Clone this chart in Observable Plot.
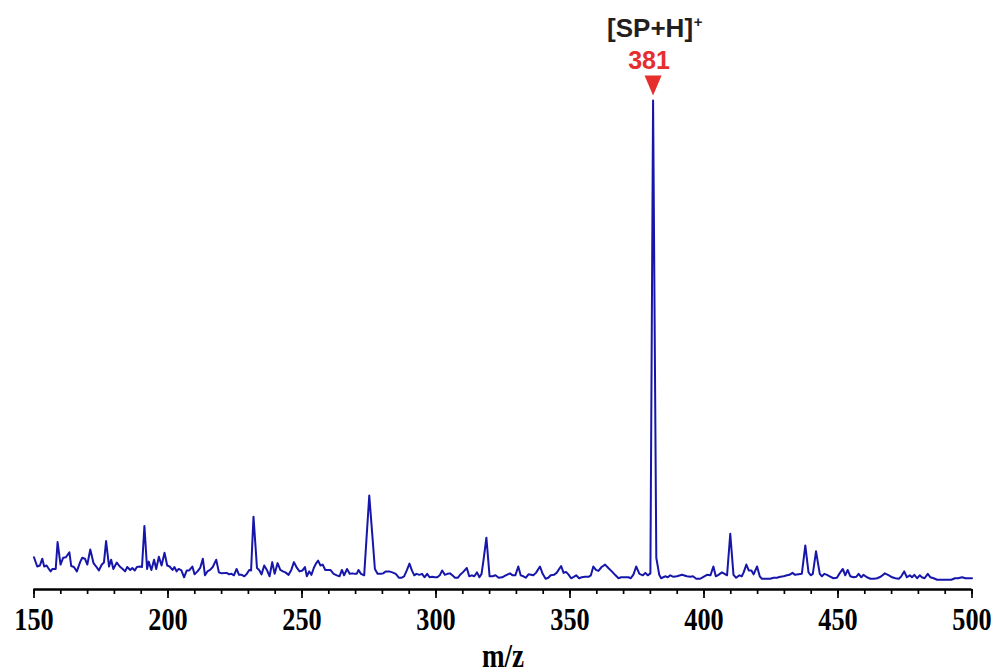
<!DOCTYPE html>
<html><head><meta charset="utf-8">
<script src="https://cdn.jsdelivr.net/npm/d3@7"></script>
<script src="https://cdn.jsdelivr.net/npm/@observablehq/plot@0.6"></script>
<style>html,body{margin:0;padding:0;background:#fff;}</style>
</head><body><div id="chart"></div>
<script>
const mz = [
150.0,151.2,152.2,153.1,153.8,154.7,155.3,156.2,156.9,158.1,158.8,159.9,160.9,161.9,163.2,163.9,164.9,166.0,167.2,168.0,
169.0,169.9,171.0,172.2,173.2,174.2,175.3,176.1,176.9,178.0,178.8,179.6,180.9,182.0,183.1,184.0,184.8,185.9,186.7,187.6,
188.4,189.6,190.3,191.2,192.2,192.8,193.8,194.8,195.6,196.6,197.6,198.7,199.7,200.6,201.7,202.4,203.2,204.0,205.0,206.0,
207.0,207.9,209.1,209.9,211.0,212.0,213.0,213.8,214.7,215.7,216.7,218.0,219.0,220.0,221.9,222.8,223.7,224.6,225.6,226.5,
227.5,228.5,229.4,230.3,231.0,231.9,233.2,234.0,234.9,235.9,236.9,237.9,238.9,239.8,240.9,241.9,242.9,243.8,245.0,246.0,
247.0,248.1,249.1,250.2,251.1,251.8,252.7,253.5,254.4,255.2,256.0,256.9,257.7,258.7,260.6,261.8,263.0,264.0,264.9,265.7,
266.8,267.8,268.9,269.6,270.4,271.1,272.0,273.2,274.1,275.1,276.3,277.2,278.2,279.4,280.3,281.2,282.5,283.7,285.0,286.2,
287.1,288.1,289.1,290.1,291.0,291.9,292.7,293.8,294.8,295.7,296.7,297.6,298.6,299.5,300.5,301.4,302.3,303.3,304.3,305.2,
306.1,307.1,308.1,309.0,310.0,311.5,312.4,313.4,314.3,315.3,316.2,317.0,317.7,318.8,320.0,321.1,322.2,323.4,324.7,326.0,
327.6,328.6,329.6,330.7,331.6,332.6,333.5,334.5,335.5,336.3,337.3,338.8,339.8,340.9,341.9,342.8,344.0,345.0,346.7,347.6,
348.5,349.4,350.4,351.4,352.3,353.4,354.4,355.6,356.9,357.8,358.7,359.7,360.6,361.8,363.1,364.3,365.6,366.8,368.1,369.1,
370.0,371.0,371.8,372.7,373.7,374.7,375.9,377.2,378.1,379.0,380.0,381.0,382.2,383.3,384.0,385.5,386.5,387.4,388.6,389.9,
391.8,393.6,394.9,395.9,397.1,398.6,399.8,401.1,402.4,403.5,404.4,405.4,406.7,407.7,408.6,409.8,411.0,412.0,413.2,414.1,
414.8,415.8,416.7,417.7,418.5,419.8,420.8,421.6,422.9,424.7,426.0,427.2,428.5,429.7,431.0,431.9,433.0,434.0,435.3,436.5,
437.8,439.0,439.9,440.6,441.8,443.2,444.0,444.9,445.9,446.9,448.3,449.6,450.6,451.8,452.7,453.6,454.6,455.8,456.8,457.7,
458.7,459.5,460.8,462.1,463.4,464.6,465.9,467.5,469.0,470.2,471.4,472.7,473.5,474.7,475.7,476.8,477.6,478.5,479.5,480.5,
481.3,482.3,483.5,484.5,485.7,487.0,488.7,490.5,492.3,493.6,494.8,496.3,497.6,498.9,500.0
];
const intensity = [
6.6,4.7,4.9,6.3,4.7,4.9,4.4,3.7,4.2,4.2,9.7,5.1,6.5,6.6,7.6,4.8,4.6,3.7,5.6,6.5,
6.3,5.1,8.2,5.4,4.7,3.9,5.1,5.5,9.9,4.7,6.1,4.2,5.5,4.7,4.2,3.7,4.6,4.0,4.4,3.9,
4.6,4.7,4.6,13.0,4.2,5.7,4.0,6.1,4.2,6.7,4.9,7.5,4.9,4.7,4.0,4.6,3.7,4.2,3.9,2.5,
3.9,3.9,4.7,3.1,3.7,4.4,6.3,2.9,3.7,4.0,4.6,6.1,3.5,3.3,3.4,3.1,3.2,2.9,4.2,3.0,
3.0,2.7,3.2,4.0,3.9,14.9,4.4,4.0,3.1,4.9,4.0,2.7,5.6,3.2,5.4,4.0,3.7,3.5,3.0,4.0,
5.6,4.4,3.7,3.9,4.6,2.7,3.7,3.0,4.4,5.3,5.9,4.9,5.1,4.0,4.0,3.2,2.9,2.7,4.0,2.9,
4.2,3.2,3.3,3.2,3.2,4.0,3.2,2.9,10.7,19.2,10.7,4.2,3.2,3.2,3.3,3.7,3.7,3.5,3.2,2.4,
2.4,2.7,3.9,5.3,3.9,2.9,3.2,3.0,3.2,2.5,3.2,2.5,2.6,2.5,2.5,2.9,3.9,3.0,3.2,3.3,
2.9,2.4,2.4,3.0,3.5,4.4,2.7,2.9,2.7,3.5,2.5,3.2,5.9,10.6,2.7,2.7,2.9,2.4,2.5,2.9,
3.3,2.9,2.9,4.7,2.9,2.7,2.4,3.1,3.0,2.9,3.4,4.7,3.2,2.2,2.4,2.9,3.0,3.4,4.8,3.4,
3.6,3.1,2.3,2.6,2.9,2.3,2.5,2.6,2.6,2.9,4.7,4.0,3.8,4.6,5.1,4.4,3.7,3.0,2.3,2.5,
2.5,2.5,2.5,2.3,3.1,4.7,3.2,2.9,3.4,2.9,3.3,100,6.5,3.0,2.3,2.7,2.5,2.9,2.6,2.7,
3.0,2.7,2.6,2.7,2.2,2.2,2.6,3.0,2.9,4.7,2.7,3.0,3.5,3.2,2.9,11.4,3.0,2.4,2.9,2.7,
3.5,5.1,3.9,3.9,3.1,4.7,2.7,2.2,2.2,2.2,2.4,2.4,2.6,2.7,2.9,3.0,3.4,3.0,3.1,3.2,
9.0,3.5,2.9,3.2,7.8,3.2,2.7,3.2,3.0,2.7,2.3,2.4,3.3,4.2,2.9,4.0,2.7,2.5,2.6,3.2,
2.5,3.0,2.5,2.2,2.2,2.3,2.6,3.3,2.9,2.5,2.3,2.2,2.6,3.7,2.5,2.9,2.5,3.0,2.3,2.9,
2.5,2.3,3.2,2.5,2.3,2.0,2.0,2.0,2.0,2.3,2.3,2.5,2.3,2.3,2.3
];
const majorTicks = [150,200,250,300,350,400,450,500];
const minorTicks = d3.range(150, 501, 10);
const peakLabel = ["381"];
const ionLabel = ["[SP+H]"];
const xLabel = "m/z";

const data = mz.map((m, i) => ({mz: m, intensity: intensity[i]}));
const iMax = d3.maxIndex(intensity);
const peaks = [{mz: mz[iMax], intensity: intensity[iMax], label: peakLabel[0], ion: ionLabel[0]}];

const triangleDown = {
  draw(context, size) {
    const r = Math.sqrt(size / Math.PI);
    context.moveTo(-0.85 * r, -r);
    context.lineTo(0.85 * r, -r);
    context.lineTo(0, r);
    context.closePath();
  }
};

const serif = "'Liberation Serif', 'Times New Roman', serif";
const sans = "'Liberation Sans', Arial, sans-serif";

const chart = Plot.plot({
  width: 998,
  height: 672,
  marginLeft: 33.5,
  marginRight: 26.5,
  marginTop: 100,
  marginBottom: 83,
  x: {domain: [150, 500], label: null},
  y: {domain: [0, 100], axis: null},
  marks: [
    Plot.line(data, {x: "mz", y: "intensity", stroke: "#1616aa", strokeWidth: 2}),
    Plot.axisX(minorTicks, {tickSize: 5, tickFormat: () => "", label: null, strokeWidth: 1.7, stroke: "#000"}),
    Plot.axisX(majorTicks, {tickSize: 9, tickPadding: 9, label: null, strokeWidth: 1.7, stroke: "#000", fill: "#000",
      fontSize: 32, fontWeight: "bold", fontFamily: serif, tickFormat: d => String(d)}),
    Plot.ruleY([0], {stroke: "#000", strokeWidth: 2.5}),
    Plot.text([xLabel], {frameAnchor: "bottom", dy: 77, fontSize: 33, fontWeight: "bold", fontFamily: serif, fill: "#000"}),
    Plot.dot(peaks, {x: "mz", y: "intensity", r: 10, symbol: triangleDown, fill: "#e62e2d", stroke: null, dy: -15}),
    Plot.text(peaks, {x: "mz", y: "intensity", text: "label", dx: -4, dy: -40, lineAnchor: "middle",
      fontSize: 25, fontWeight: "bold", fontFamily: sans, fill: "#e62e2d"}),
    Plot.text(peaks, {x: "mz", y: "intensity", text: "ion", dx: -3, dy: -72, lineAnchor: "middle",
      fontSize: 26, fontWeight: "bold", fontFamily: sans, fill: "#231f20"}),
    Plot.text(peaks, {x: "mz", y: "intensity", text: () => "+", dx: 45, dy: -78, lineAnchor: "middle",
      fontSize: 15, fontWeight: "bold", fontFamily: sans, fill: "#231f20"})
  ]
});

document.getElementById("chart").appendChild(chart);

// condense the serif axis texts horizontally, like the reference
chart.querySelectorAll("text").forEach(t => {
  const g = t.closest("[font-family]");
  if (!g || !/Serif/.test(g.getAttribute("font-family"))) return;
  if (!t.textContent) return;
  const len = t.getComputedTextLength();
  if (len > 0) {
    t.setAttribute("textLength", (len * 0.82).toFixed(1));
    t.setAttribute("lengthAdjust", "spacingAndGlyphs");
  }
});
</script>
</body></html>
